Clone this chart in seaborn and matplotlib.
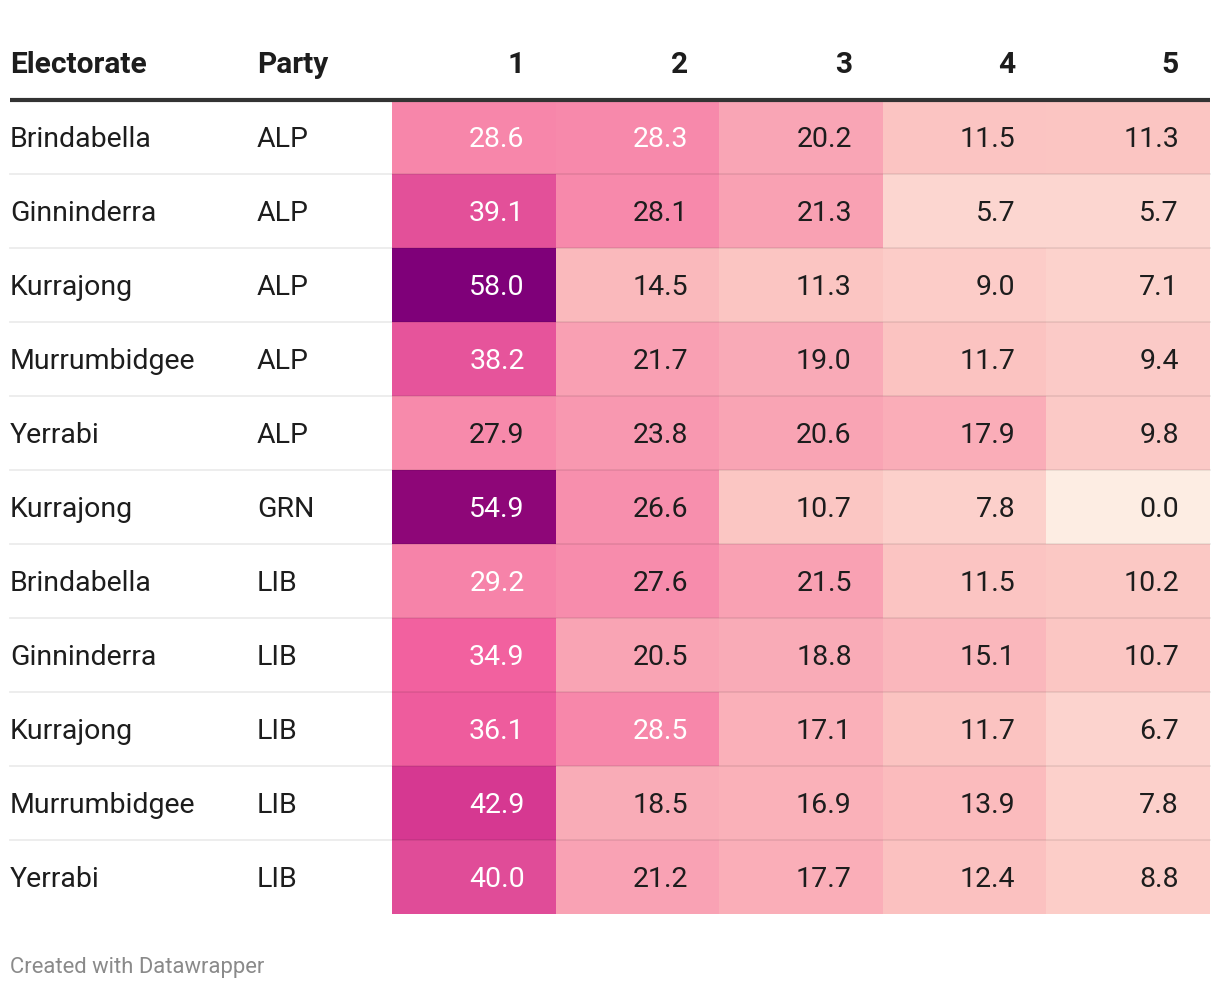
import numpy as np
import pandas as pd
import seaborn as sns
import matplotlib.pyplot as plt
from matplotlib.colors import LinearSegmentedColormap

electorates = [
    "Brindabella", "Ginninderra", "Kurrajong", "Murrumbidgee", "Yerrabi",
    "Kurrajong", "Brindabella", "Ginninderra", "Kurrajong", "Murrumbidgee", "Yerrabi",
]
parties = ["ALP", "ALP", "ALP", "ALP", "ALP", "GRN", "LIB", "LIB", "LIB", "LIB", "LIB"]
pref_labels = ["1", "2", "3", "4", "5"]
pref1 = [28.6, 39.1, 58.0, 38.2, 27.9, 54.9, 29.2, 34.9, 36.1, 42.9, 40.0]
pref2 = [28.3, 28.1, 14.5, 21.7, 23.8, 26.6, 27.6, 20.5, 28.5, 18.5, 21.2]
pref3 = [20.2, 21.3, 11.3, 19.0, 20.6, 10.7, 21.5, 18.8, 17.1, 16.9, 17.7]
pref4 = [11.5, 5.7, 9.0, 11.7, 17.9, 7.8, 11.5, 15.1, 11.7, 13.9, 12.4]
pref5 = [11.3, 5.7, 7.1, 9.4, 9.8, 0.0, 10.2, 10.7, 6.7, 7.8, 8.8]

d = pd.DataFrame(
    np.column_stack([pref1, pref2, pref3, pref4, pref5]),
    columns=pref_labels,
)

# colour ramp picked off the datawrapper table
anchors = [
    (0, "#fdede3"), (6, "#fcd5cf"), (12, "#fbc2c0"), (20, "#f9a6b5"),
    (28, "#f78aab"), (35, "#f2619f"), (40, "#e04c98"), (43, "#d63891"),
    (55, "#8e0678"), (58, "#7f0079"),
]
cmap = LinearSegmentedColormap.from_list("dw", [(v / 58, c) for v, c in anchors])

plt.rcParams["font.family"] = ["Roboto", "DejaVu Sans"]

W, H = 1220, 990
fig = plt.figure(figsize=(W / 100, H / 100), dpi=100)
x0, x1, y0, y1 = 392, 1210, 100, 914
ax = fig.add_axes([x0 / W, 1 - y1 / H, (x1 - x0) / W, (y1 - y0) / H])

fs = 20.5
sns.heatmap(
    d, cmap=cmap, vmin=0, vmax=58, annot=True, fmt=".1f",
    cbar=False, ax=ax, annot_kws={"fontsize": fs},
)
ax.set_xticks([])
ax.set_yticks([])
ax.set_xlabel("")
ax.set_ylabel("")

cw = (x1 - x0) / 5
pad = 31 / cw
dy = 0.035
for t in ax.texts:
    x, y = t.get_position()
    v = float(t.get_text())
    t.set_position((x + 0.5 - pad, y + dy))
    t.set_ha("right")
    t.set_color("white" if v > 28.2 else "#1d1d1d")

xl = (10 - x0) / cw
xp = (257 - x0) / cw
xr = 5

for i, (e, p) in enumerate(zip(electorates, parties)):
    ax.text(xl, i + 0.5 + dy, e, ha="left", va="center", fontsize=fs, color="#1d1d1d", clip_on=False)
    ax.text(xp, i + 0.5 + dy, p, ha="left", va="center", fontsize=fs, color="#1d1d1d", clip_on=False)
    if i > 0:
        ax.plot([xl, xr], [i, i], color="black", alpha=0.08, lw=1.3, clip_on=False)

hy = -0.5 + 0.03
ax.text(xl, hy, "Electorate", ha="left", va="center", fontsize=21.5,
        fontweight="bold", color="#1d1d1d", clip_on=False)
ax.text(xp, hy, "Party", ha="left", va="center", fontsize=21.5,
        fontweight="bold", color="#1d1d1d", clip_on=False)
for j, lab in enumerate(pref_labels):
    ax.text(j + 1 - pad, hy, lab, ha="right", va="center", fontsize=21.5,
            fontweight="bold", color="#1d1d1d", clip_on=False)

ax.plot([xl, xr], [0, 0], color="#333333", lw=3, clip_on=False, solid_capstyle="butt")

fig.text(10 / W, 1 - 967 / H, "Created with Datawrapper", ha="left", va="center",
         fontsize=15.8, color="#8a8a8a")

fig.savefig("out.png", dpi=100)
